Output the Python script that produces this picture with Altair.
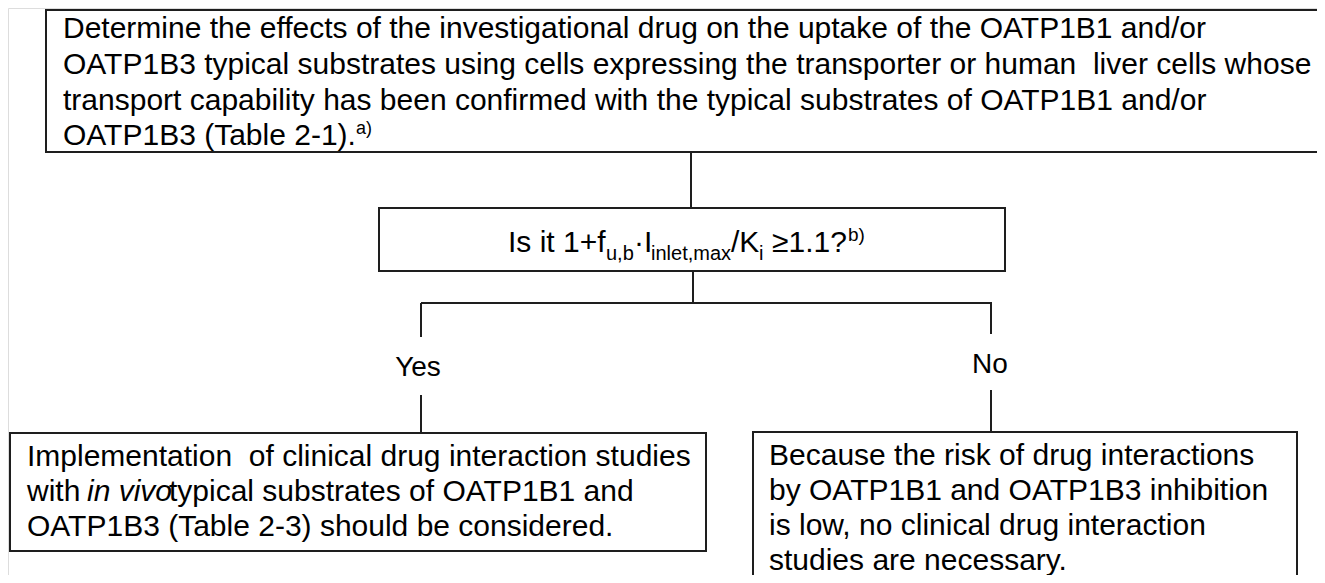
import altair as alt
import pandas as pd

# ---------------- content ----------------
top_lines = [
    "Determine the effects of the investigational drug on the uptake of the OATP1B1 and/or",
    "OATP1B3 typical substrates using cells expressing the transporter or human\u00a0\u00a0liver cells whose",
    "transport capability has been confirmed with the typical substrates of OATP1B1 and/or",
    "OATP1B3 (Table 2-1).",
]
top_note = "a)"

decision_parts = ["Is it 1+f", "u,b", "·I", "inlet,max", "/K", "i", "≥1.1?", "b)"]
decision_roles = ["main", "sub", "main", "sub", "main", "sub", "main", "sup"]

branch_labels = ["Yes", "No"]

yes_line1 = "Implementation\u00a0\u00a0of clinical drug interaction studies"
yes_line2_a = "with"
yes_line2_it = "in vivo"
yes_line2_b = "typical substrates of OATP1B1 and"
yes_line3 = "OATP1B3 (Table 2-3) should be considered."

no_lines = [
    "Because the risk of drug interactions",
    "by OATP1B1 and OATP1B3 inhibition",
    "is low, no clinical drug interaction",
    "studies are necessary.",
]

# ---------------- layout (page pixel coordinates) ----------------
W, H = 1309, 567
OFF = 8
FONT = "Liberation Sans"
BODY, LABEL, SUB = 30, 28, 20

box_x1 = [46, 379, 10, 753]
box_x2 = [1345, 1005, 706, 1297]
box_y1 = [10, 208, 433, 432]
box_y2 = [152, 271, 551, 620]

line_x1 = [691, 693, 421, 421, 421, 991, 991]
line_x2 = [691, 693, 992, 421, 421, 991, 991]
line_y1 = [152, 271, 303, 303, 395, 303, 390]
line_y2 = [208, 303, 303, 337, 433, 334, 433]

top_x = 63
top_base = [38, 74, 110, 145]
top_note_x, top_note_y = 356, 134

dec_x = [508, 606, 634, 651, 731, 759, 772, 848]
dec_base = {"main": 252, "sub": 260, "sup": 241}
dec_size = {"main": BODY, "sub": SUB, "sup": SUB - 1}

branch_x = [418, 990]
branch_base = [376, 373]

yes_x = 27
yes_base = [466, 501, 536]
yes_it_x, yes_b_x = 87, 169

no_x = 769
no_base = [465, 500, 535, 570]

# ---------------- tables ----------------
boxes = pd.DataFrame({"x1": box_x1, "x2": box_x2, "y1": box_y1, "y2": box_y2})
lines = pd.DataFrame({"x1": line_x1, "x2": line_x2, "y1": line_y1, "y2": line_y2})

rows = []
for t, b in zip(top_lines, top_base):
    rows.append((top_x, b, t, BODY))
rows.append((top_note_x, top_note_y, top_note, 18))
for t, r, x in zip(decision_parts, decision_roles, dec_x):
    rows.append((x, dec_base[r], t, dec_size[r]))
rows.append((yes_x, yes_base[0], yes_line1, BODY))
rows.append((yes_x, yes_base[1], yes_line2_a, BODY))
rows.append((yes_b_x, yes_base[1], yes_line2_b, BODY))
rows.append((yes_x, yes_base[2], yes_line3, BODY))
for t, b in zip(no_lines, no_base):
    rows.append((no_x, b, t, BODY))
texts = pd.DataFrame(rows, columns=["x", "y", "text", "size"])

italic = pd.DataFrame({"x": [yes_it_x], "y": [yes_base[1]], "text": [yes_line2_it], "size": [BODY]})
centered = pd.DataFrame({"x": branch_x, "y": branch_base, "text": branch_labels, "size": [LABEL, LABEL]})

xs = alt.Scale(domain=[OFF, OFF + W], nice=False, zero=False)
ys = alt.Scale(domain=[OFF, OFF + H], nice=False, zero=False, reverse=True)

box_layer = alt.Chart(boxes).mark_rect(
    fill="white", stroke="#1e1e1e", strokeWidth=2, clip=True
).encode(
    x=alt.X("x1:Q", scale=xs, axis=None),
    x2="x2:Q",
    y=alt.Y("y1:Q", scale=ys, axis=None),
    y2="y2:Q",
)

line_layer = alt.Chart(lines).mark_rule(
    color="#1e1e1e", strokeWidth=2, clip=True
).encode(
    x=alt.X("x1:Q", scale=xs, axis=None),
    x2="x2:Q",
    y=alt.Y("y1:Q", scale=ys, axis=None),
    y2="y2:Q",
)

def text_layer(df, **kw):
    return alt.Chart(df).mark_text(
        font=FONT, baseline="alphabetic", color="black", **kw
    ).encode(
        x=alt.X("x:Q", scale=xs, axis=None),
        y=alt.Y("y:Q", scale=ys, axis=None),
        text="text:N",
        size=alt.Size("size:Q", scale=None, legend=None),
    )

chart = alt.layer(
    line_layer,
    box_layer,
    text_layer(texts, align="left"),
    text_layer(italic, align="left", fontStyle="italic"),
    text_layer(centered, align="center"),
).properties(
    width=W, height=H, padding=0,
    autosize=alt.AutoSizeParams(type="none"),
).configure_view(strokeWidth=0).configure(background="white")

chart.save("out.html", embed_options={"renderer": "svg", "actions": False})
